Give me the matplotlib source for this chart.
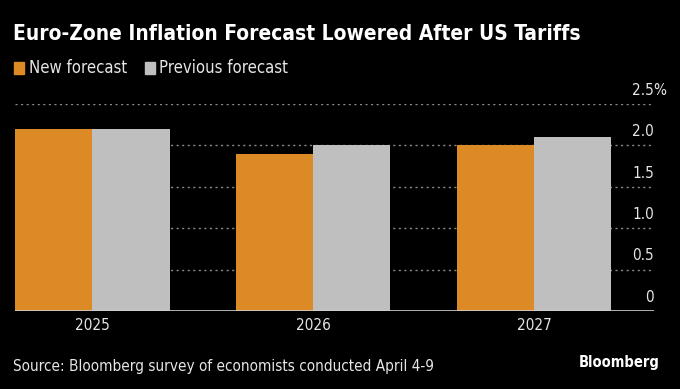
import numpy as np
import matplotlib.pyplot as plt
from matplotlib import font_manager

years = ['2025', '2026', '2027']
new_forecast = [2.2, 1.9, 2.0]
prev_forecast = [2.2, 2.0, 2.1]
yticks = [0, 0.5, 1.0, 1.5, 2.0, 2.5]
ytick_labels = ['0', '0.5', '1.0', '1.5', '2.0', '2.5']

# look for a condensed face, Bloomberg's font is quite narrow
stretch = 'normal'
fam = 'Liberation Sans'
try:
    p = font_manager.findfont(font_manager.FontProperties(family='DejaVu Sans', stretch='condensed'),
                              fallback_to_default=False)
    if 'Condensed' in p:
        fam, stretch = 'DejaVu Sans', 'condensed'
except Exception:
    pass
plt.rcParams['font.family'] = [fam, 'DejaVu Sans']
plt.rcParams['font.stretch'] = stretch
k = 1.0 if stretch == 'condensed' else 0.9

orange = '#DB8A26'
grey = '#BFBFBF'
txt = '#E6E6E6'

fig = plt.figure(figsize=(6.8, 3.89), dpi=100, facecolor='black')
ax = fig.add_axes([15 / 680, (389 - 311) / 389, (654 - 15) / 680, (311 - 104) / 389])
ax.set_facecolor('black')

x = np.arange(len(years))
w = 0.35
ax.bar(x - w / 2, new_forecast, w, color=orange, zorder=3)
ax.bar(x + w / 2, prev_forecast, w, color=grey, zorder=3)

for v in yticks[1:]:
    ax.axhline(v, color='#8A8A8A', lw=1, ls=(0, (1.5, 2.5)), zorder=1)
ax.axhline(0, color='#D0D0D0', lw=1.2, zorder=4)

ax.set_xlim(-0.35, 2.543)
ax.set_ylim(0, 2.5)
for s in ax.spines.values():
    s.set_visible(False)
ax.set_yticks([])
ax.set_xticks(x)
ax.set_xticklabels(years, color=txt, fontsize=11 * k)
ax.tick_params(axis='x', length=0, pad=5)

ytr = ax.get_yaxis_transform()
for v, lab in zip(yticks, ytick_labels):
    ax.text(1.0, v + 0.075, lab, transform=ytr, ha='right', va='bottom',
            color=txt, fontsize=11 * k)
ax.annotate('%', (1.0, 2.5 + 0.075), xycoords=ytr, xytext=(-0.5, 0),
            textcoords='offset points', ha='left', va='bottom', color=txt, fontsize=11 * k)

fig.text(13 / 680, 1 - 34 / 389, 'Euro-Zone Inflation Forecast Lowered After US Tariffs',
         color='white', fontsize=15 * k, fontweight='bold', va='center', ha='left')

fig.patches.append(plt.Rectangle((14 / 680, 1 - 74 / 389), 10 / 680, 12 / 389,
                                 transform=fig.transFigure, color=orange))
fig.text(29 / 680, 1 - 68 / 389, 'New forecast', color=txt, fontsize=12 * k,
         va='center', ha='left')
fig.patches.append(plt.Rectangle((145 / 680, 1 - 74 / 389), 10 / 680, 12 / 389,
                                 transform=fig.transFigure, color=grey))
fig.text(159 / 680, 1 - 68 / 389, 'Previous forecast', color=txt, fontsize=12 * k,
         va='center', ha='left')

fig.text(13 / 680, 1 - 366 / 389, 'Source: Bloomberg survey of economists conducted April 4-9',
         color=txt, fontsize=11 * k, va='center', ha='left')
fig.text(660 / 680, 1 - 363 / 389, 'Bloomberg', color='white', fontsize=10.5 * k,
         fontweight='bold', va='center', ha='right')

fig.savefig('out.png', dpi=100, facecolor='black')
